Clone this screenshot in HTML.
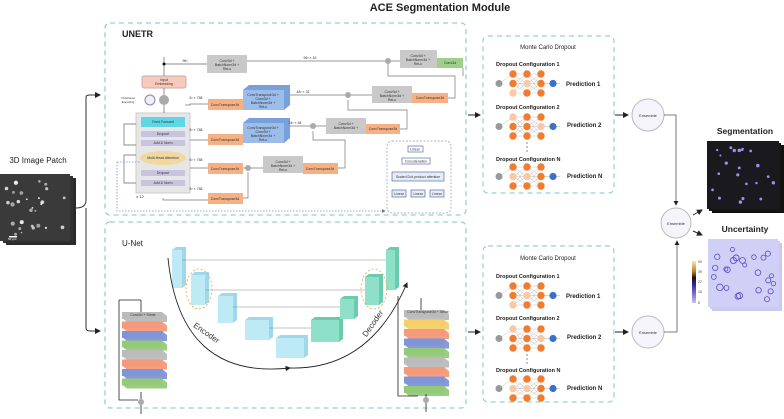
<!DOCTYPE html>
<html><head><meta charset="utf-8"><style>
html,body{margin:0;padding:0;background:#fff;}
svg{display:block;font-family:"Liberation Sans",sans-serif;}
</style></head><body>
<svg id="s" width="784" height="419" viewBox="0 0 784 419" xmlns="http://www.w3.org/2000/svg">
<defs>
<marker id="ar" markerWidth="6" markerHeight="6" refX="5" refY="3" orient="auto"><path d="M0,0 L6,3 L0,6 z" fill="#222"/></marker>
<marker id="arg" markerWidth="5" markerHeight="5" refX="4" refY="2.5" orient="auto"><path d="M0,0 L5,2.5 L0,5 z" fill="#777"/></marker>
<radialGradient id="dots"><stop offset="0" stop-color="#fff"/><stop offset="1" stop-color="#fff" stop-opacity="0"/></radialGradient>
</defs>
<text x="440" y="11" font-size="11" font-weight="bold" text-anchor="middle" fill="#222">ACE Segmentation Module</text>

<!-- main dashed boxes -->
<rect x="105" y="23" width="361" height="192" rx="5" fill="none" stroke="#8fd3cf" stroke-width="1.3" stroke-dasharray="5,4"/>
<rect x="105" y="222" width="361" height="186" rx="5" fill="none" stroke="#8fd3cf" stroke-width="1.3" stroke-dasharray="5,4"/>
<text x="122" y="37" font-size="9" font-weight="bold" fill="#222">UNETR</text>
<text x="122" y="246" font-size="8" fill="#222">U-Net</text>

<!-- 3D image patch -->
<text x="38" y="163" font-size="8" fill="#222" text-anchor="middle">3D Image Patch</text>
<rect x="6" y="178" width="70" height="67" fill="#2a2a2a"/>
<rect x="3" y="176" width="70" height="67" fill="#303030"/>
<rect x="0" y="174" width="70" height="67" fill="#3a3a3a"/>
<g id="patchdots"></g>
<rect x="9" y="236" width="8" height="1.5" fill="#fff"/>
<text x="8" y="240" font-size="3" fill="#fff">50 µm</text>
<path d="M76,208 Q86,208 86,200 L86,97 Q86,95 90,95 L100,95" fill="none" stroke="#333" stroke-width="1" marker-end="url(#ar)"/>
<path d="M86,208 L86,328 Q86,331 90,331 L100,331" fill="none" stroke="#333" stroke-width="1" marker-end="url(#ar)"/>

<!-- UNETR internals -->
<g font-size="3.5" fill="#333" text-anchor="middle">
<rect x="142" y="76" width="44" height="12" rx="2" fill="#f6c9bd" stroke="#caa"/>
<text x="164" y="81">Input</text><text x="164" y="85">Embedding</text>
<circle cx="150" cy="100" r="5" fill="#eef" stroke="#889"/>
<circle cx="164" cy="100" r="5" fill="#aaa"/>
<text x="128" y="99" font-size="3">Positional</text><text x="128" y="103" font-size="3">Encoding</text>
<rect x="136" y="113" width="54" height="80" fill="#e6e6e6" stroke="#ccc"/>
<rect x="141" y="117" width="44" height="10" fill="#5fd6e6"/><text x="163" y="123">Feed Forward</text>
<rect x="141" y="131" width="44" height="6" fill="#c8c4e0"/><text x="163" y="135">Dropout</text>
<rect x="141" y="140" width="44" height="6" fill="#c8c4e0"/><text x="163" y="144">Add &amp; Norm</text>
<ellipse cx="163" cy="158" rx="23" ry="7" fill="#f0d9a0"/><text x="163" y="159">Multi-Head Attention</text>
<rect x="141" y="170" width="44" height="6" fill="#c8c4e0"/><text x="163" y="174">Dropout</text>
<rect x="141" y="180" width="44" height="6" fill="#c8c4e0"/><text x="163" y="184">Add &amp; Norm</text>
<text x="140" y="198" font-size="4">x 12</text>
<path d="M164,88 V95 M164,105 V113 M136,124 H124 V145 H136 M136,155 H124 V183 H136" fill="none" stroke="#666" stroke-width="0.7"/>
<path d="M164,57 V76 M164,64 H207" fill="none" stroke="#666" stroke-width="0.7"/>
<circle cx="164" cy="64" r="1.5" fill="#111"/>
<text x="185" y="62">96³</text>

<!-- gray conv boxes -->
<g id="grays"></g>
<rect x="207" y="55" width="40" height="18" fill="#c9c9c9"/><text x="227" y="62">Conv3d +</text><text x="227" y="66">BatchNorm3d +</text><text x="227" y="70">ReLu</text>
<rect x="400" y="50" width="37" height="18" fill="#c9c9c9"/><text x="418" y="57">Conv3d +</text><text x="418" y="61">BatchNorm3d +</text><text x="418" y="65">ReLu</text>
<rect x="437" y="58" width="26" height="10" fill="#9ed08a"/><text x="450" y="64">Conv3d</text>
<rect x="372" y="86" width="40" height="17" fill="#c9c9c9"/><text x="392" y="93">Conv3d +</text><text x="392" y="97">BatchNorm3d +</text><text x="392" y="101">ReLu</text>
<rect x="412" y="93" width="36" height="10" fill="#f5b183"/><text x="430" y="99">ConvTranspose3d</text>
<rect x="326" y="118" width="40" height="16" fill="#c9c9c9"/><text x="346" y="125">Conv3d +</text><text x="346" y="129">BatchNorm3d +</text>
<rect x="366" y="124" width="34" height="10" fill="#f5b183"/><text x="383" y="130">ConvTranspose3d</text>
<rect x="263" y="156" width="40" height="17" fill="#c9c9c9"/><text x="283" y="163">Conv3d +</text><text x="283" y="167">BatchNorm3d +</text><text x="283" y="171">ReLu</text>
<rect x="303" y="163" width="35" height="11" fill="#f5b183"/><text x="320" y="170">ConvTranspose3d</text>
<!-- blue cubes -->
<path d="M243,90 l6,-5 h41 v20 l-6,5 z" fill="#7aa0dc"/>
<rect x="243" y="90" width="41" height="20" fill="#9cbcea"/><text x="263" y="96">ConvTranspose3d +</text><text x="263" y="100">Conv3d +</text><text x="263" y="104">BatchNorm3d +</text><text x="263" y="108">ReLu</text>
<path d="M243,123 l6,-5 h41 v20 l-6,5 z" fill="#7aa0dc"/>
<rect x="243" y="123" width="41" height="20" fill="#9cbcea"/><text x="263" y="129">ConvTranspose3d +</text><text x="263" y="133">Conv3d +</text><text x="263" y="137">BatchNorm3d +</text><text x="263" y="141">ReLu</text>
<!-- orange left -->
<rect x="208" y="99" width="35" height="11" fill="#f5b183"/><text x="225" y="106">ConvTranspose3d</text>
<rect x="208" y="134" width="35" height="11" fill="#f5b183"/><text x="225" y="141">ConvTranspose3d</text>
<rect x="208" y="163" width="35" height="11" fill="#f5b183"/><text x="225" y="170">ConvTranspose3d</text>
<rect x="208" y="193" width="35" height="11" fill="#f5b183"/><text x="225" y="200">ConvTranspose3d</text>
<text x="196" y="99">6³ × 768</text><text x="196" y="131">6³ × 768</text><text x="196" y="161">6³ × 768</text><text x="196" y="190">6³ × 768</text>
<!-- lines -->
<path d="M247,61 H385 M390,61 H400 M290,95 H345 M350,95 H372 M290,126 H310 M315,126 H326 M243,168 H246 M251,168 H263 M190,168 H208 M190,140 H208 M185,105 H190 V104 H208 M163,198 V200 H208 M463,68 V76 M448,98 H455 V76 H388 V64 M400,129 H407 V110 H348 V100 M338,168 H345 V140 H313 V131 M243,198 H248 V172" fill="none" stroke="#777" stroke-width="0.7"/>
<circle cx="388" cy="61" r="3" fill="#aaa"/><circle cx="348" cy="95" r="3" fill="#aaa"/><circle cx="313" cy="126" r="3" fill="#aaa"/><circle cx="248" cy="168" r="3" fill="#aaa"/>
<text x="310" y="59">96³ × 16</text><text x="303" y="93">48³ × 32</text><text x="295" y="124">24³ × 64</text>
<!-- attention inset -->
<rect x="387" y="141" width="64" height="72" rx="5" fill="#fff" stroke="#8a9ab8" stroke-dasharray="2,1.5" stroke-width="0.7"/>
<rect x="408" y="146" width="15" height="6" fill="#fff" stroke="#3a5a9a" stroke-width="0.6"/><text x="415" y="150.5">Linear</text>
<rect x="402" y="158" width="28" height="6" fill="#fff" stroke="#3a5a9a" stroke-width="0.6"/><text x="416" y="162.5">Concatenation</text>
<rect x="392" y="172" width="52" height="9" fill="#e6ecf8" stroke="#3a5a9a" stroke-width="0.6"/><text x="418" y="178">Scaled Dot-product attention</text>
<rect x="392" y="190" width="14" height="7" fill="#e6ecf8" stroke="#3a5a9a" stroke-width="0.6"/><text x="399" y="195">Linear</text>
<rect x="411" y="190" width="14" height="7" fill="#e6ecf8" stroke="#3a5a9a" stroke-width="0.6"/><text x="418" y="195">Linear</text>
<rect x="430" y="190" width="14" height="7" fill="#e6ecf8" stroke="#3a5a9a" stroke-width="0.6"/><text x="437" y="195">Linear</text>
<path d="M117,162 V211 H385" fill="none" stroke="#7a8ed8" stroke-width="0.8" stroke-dasharray="1.5,1.5" marker-end="url(#arg)"/>
<path d="M117,162 H140" fill="none" stroke="#7a8ed8" stroke-width="0.8" stroke-dasharray="1.5,1.5"/>
</g>

<!-- U-Net internals -->
<g font-size="3.5" fill="#333" text-anchor="middle">
<g id="unetcubes"></g>
<path d="M168,258 Q180,380 290,368" fill="none" stroke="#222" stroke-width="0.9" marker-end="url(#ar)"/>
<path d="M290,368 Q370,370 407,283" fill="none" stroke="#222" stroke-width="0.9" marker-end="url(#ar)"/>
<text x="205" y="335" font-size="8" transform="rotate(35 205 335)">Encoder</text>
<text x="375" y="325" font-size="8" transform="rotate(-55 375 325)">Decoder</text>
<ellipse cx="199" cy="289" rx="13" ry="20" fill="none" stroke="#f0a040" stroke-dasharray="2,2" stroke-width="0.8"/>
<ellipse cx="374" cy="289" rx="13" ry="20" fill="none" stroke="#f0a040" stroke-dasharray="2,2" stroke-width="0.8"/>
<g id="stacks"></g>
<text x="143" y="316">Conv3d + Stride</text>
<text x="428" y="313">ConvTranspose3d + Stride</text>
</g>

<!-- Monte Carlo boxes -->
<rect x="483" y="36" width="131" height="157" rx="5" fill="none" stroke="#8fd3cf" stroke-width="1.2" stroke-dasharray="5,4"/>
<rect x="483" y="246" width="131" height="156" rx="5" fill="none" stroke="#8fd3cf" stroke-width="1.2" stroke-dasharray="5,4"/>
<g font-size="6" fill="#222">
<text x="548" y="49" text-anchor="middle">Monte Carlo Dropout</text>
<text x="496" y="66" font-size="5.5" font-weight="bold">Dropout Configuration 1</text>
<text x="496" y="109" font-size="5.5" font-weight="bold">Dropout Configuration 2</text>
<text x="496" y="161" font-size="5.5" font-weight="bold">Dropout Configuration N</text>
<text x="566" y="86" font-weight="bold">Prediction 1</text>
<text x="567" y="127" font-weight="bold">Prediction 2</text>
<text x="567" y="178" font-weight="bold">Prediction N</text>
<text x="548" y="260" text-anchor="middle">Monte Carlo Dropout</text>
<text x="496" y="278" font-size="5.5" font-weight="bold">Dropout Configuration 1</text>
<text x="496" y="320" font-size="5.5" font-weight="bold">Dropout Configuration 2</text>
<text x="496" y="372" font-size="5.5" font-weight="bold">Dropout Configuration N</text>
<text x="566" y="298" font-weight="bold">Prediction 1</text>
<text x="567" y="339" font-weight="bold">Prediction 2</text>
<text x="567" y="390" font-weight="bold">Prediction N</text>
</g>
<g id="nets"></g>
<path d="M468,115 H480" stroke="#222" stroke-width="1" marker-end="url(#ar)"/>
<path d="M468,332 H480" stroke="#222" stroke-width="1" marker-end="url(#ar)"/>
<path d="M615,115 H628" stroke="#222" stroke-width="1" marker-end="url(#ar)"/>
<path d="M615,332 H628" stroke="#222" stroke-width="1" marker-end="url(#ar)"/>

<!-- Ensembles -->
<g font-size="4" fill="#333" text-anchor="middle">
<circle cx="648" cy="115" r="16" fill="#f4f4fa" stroke="#bbb"/><text x="648" y="117">Ensemble</text>
<circle cx="648" cy="332" r="16" fill="#f4f4fa" stroke="#bbb"/><text x="648" y="334">Ensemble</text>
<circle cx="676" cy="223" r="15" fill="#f4f4fa" stroke="#bbb"/><text x="676" y="225">Ensemble</text>
</g>
<path d="M664,115 H676 V205" fill="none" stroke="#555" stroke-width="0.8" marker-end="url(#ar)"/>
<path d="M664,332 H677 V241" fill="none" stroke="#555" stroke-width="0.8" marker-end="url(#ar)"/>
<path d="M693,215 L702,210" stroke="#222" marker-end="url(#ar)"/>
<path d="M693,231 L702,235" stroke="#222" marker-end="url(#ar)"/>

<!-- outputs -->
<text x="745" y="134" font-size="8.5" font-weight="bold" text-anchor="middle" fill="#222">Segmentation</text>
<rect x="712" y="145" width="72" height="68" fill="#111"/>
<rect x="709" y="143" width="72" height="68" fill="#161616"/>
<rect x="707" y="141" width="72" height="68" fill="#1a1a1e"/>
<g id="segdots"></g>
<text x="745" y="232" font-size="8.5" font-weight="bold" text-anchor="middle" fill="#222">Uncertainty</text>
<rect x="712" y="243" width="70" height="68" fill="#c8c8f0"/>
<rect x="710" y="241" width="70" height="68" fill="#ccccf2"/>
<rect x="708" y="239" width="70" height="68" fill="#d0d0f6"/>
<g id="uncdots"></g>
<defs><linearGradient id="cb" x1="0" y1="1" x2="0" y2="0"><stop offset="0" stop-color="#c8c0f4"/><stop offset="0.45" stop-color="#3020a0"/><stop offset="0.6" stop-color="#201010"/><stop offset="0.75" stop-color="#c08020"/><stop offset="1" stop-color="#fae8b0"/></linearGradient></defs>
<rect x="692" y="261" width="4" height="42" fill="url(#cb)"/>
<g font-size="3.5" fill="#444"><text x="698" y="263">50</text><text x="698" y="273">39</text><text x="698" y="283">27</text><text x="698" y="293">16</text><text x="698" y="304">5</text></g>
</svg>
<script>
var NS="http://www.w3.org/2000/svg";
function el(p,t,a){var e=document.createElementNS(NS,t);for(var k in a)e.setAttribute(k,a[k]);document.getElementById(p).appendChild(e);return e;}
var seed=7;function r(){seed=(seed*9301+49297)%233280;return seed/233280;}
for(var i=0;i<30;i++){el("patchdots","circle",{cx:5+r()*62,cy:180+r()*55,r:0.8+r()*1.4,fill:"#eee",opacity:0.5+r()*0.5});}
for(var i=0;i<22;i++){el("segdots","circle",{cx:712+r()*62,cy:146+r()*58,r:1+r()*0.8,fill:"#9a90f0"});}
for(var i=0;i<24;i++){el("uncdots","circle",{cx:712+r()*62,cy:248+r()*54,r:2+r()*1.5,fill:"none",stroke:"#5a48c8","stroke-width":0.8});}
// nets
function net(y0,fade){var cols=[513,527,541],rows=[y0,y0+9.5,y0+19];var ys=rows[1];
 el("nets","line",{x1:499,y1:ys,x2:513,y2:rows[0],stroke:"#999","stroke-width":0.3});
 for(var c=0;c<3;c++)for(var q=0;q<3;q++){if(c<2)for(var w=0;w<3;w++)el("nets","line",{x1:cols[c],y1:rows[q],x2:cols[c+1],y2:rows[w],stroke:"#999","stroke-width":0.3});}
 el("nets","line",{x1:541,y1:ys,x2:560,y2:ys,stroke:"#999","stroke-width":0.4});
 el("nets","circle",{cx:499,cy:ys,r:3.5,fill:"#999"});
 for(var c=0;c<3;c++)for(var q=0;q<3;q++){var f=fade.indexOf(c*3+q)>=0;el("nets","circle",{cx:cols[c],cy:rows[q],r:3.7,fill:f?"#f8c8a8":"#f07c30"});}
 el("nets","circle",{cx:553,cy:ys,r:3.6,fill:"#3a70c8"});}
[0,212].forEach(function(o){net(74+o,[2,4]);net(117+o,[0,7]);net(167+o,[1,4]);
 for(var k=0;k<3;k++)el("nets","circle",{cx:527,cy:143+o+k*4,r:0.6,fill:"#333"});});
// unet cubes
function cube(x,y,w,h,c,d){el("unetcubes","path",{d:"M"+x+","+y+" l4,-3 h"+w+" v"+h+" l-4,3 z",fill:d});el("unetcubes","rect",{x:x,y:y,width:w,height:h,fill:c});}
var enc=[[172,250,10,38],[191,275,14,30],[218,296,15,27],[245,320,24,20],[276,338,28,20]];
enc.forEach(function(a){cube(a[0],a[1],a[2],a[3],"#bdeaf5","#9fd8ea");});
var dec=[[311,320,28,22],[340,299,14,20],[365,277,14,28],[386,250,9,40]];
dec.forEach(function(a){cube(a[0],a[1],a[2],a[3],"#8fe0c8","#6ccaae");});
[[182,260,386],[205,290,365],[233,307,340],[269,328,311]].forEach(function(a){el("unetcubes","line",{x1:a[0],y1:a[1],x2:a[2],y2:a[1],stroke:"#888","stroke-width":0.5});});
// stacks
function stack(x,y0,list){list.forEach(function(c,i){var y=y0+i*9.5;el("stacks","path",{d:"M"+x+","+y+" h40 l5,4 v6 h-40 l-5,-4 z",fill:c,opacity:0.95});el("stacks","rect",{x:x,y:y,width:40,height:7,fill:c});});}
stack(122,312,["#bbbbbb","#f49a7a","#7f95d8","#95c97a","#bbbbbb","#f49a7a","#7f95d8","#95c97a"]);
stack(404,310,["#bbbbbb","#f6cf6a","#f49a7a","#7f95d8","#95c97a","#bbbbbb","#f49a7a","#7f95d8","#95c97a"]);
el("stacks","path",{d:"M141,300 V312 M119,300 H141 M119,300 V400 H138 M141,392 V400 M141,405 V414",fill:"none",stroke:"#222","stroke-width":0.8});
el("stacks","circle",{cx:141,cy:402,r:3,fill:"#aaa"});
el("stacks","path",{d:"M421,298 V310 M398,296 V396 H418 M426,394 V398 M426,402 V412",fill:"none",stroke:"#222","stroke-width":0.8});
el("stacks","circle",{cx:426,cy:400,r:3,fill:"#aaa"});
</script>
</body></html>
